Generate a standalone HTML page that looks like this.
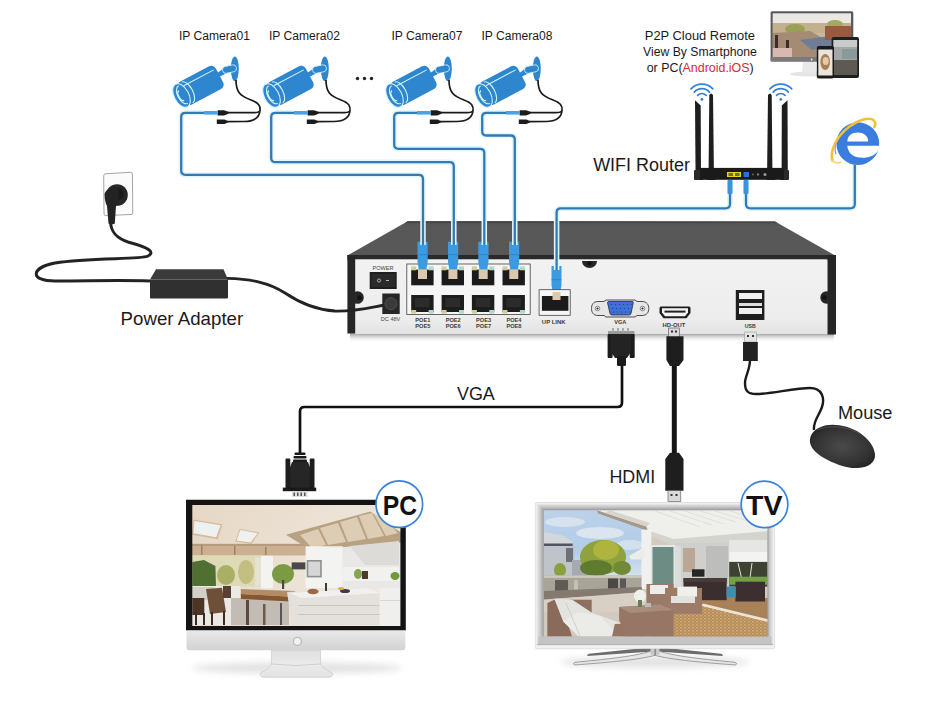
<!DOCTYPE html>
<html><head><meta charset="utf-8">
<style>
html,body{margin:0;padding:0;background:#fff;width:930px;height:701px;overflow:hidden}
svg{display:block}
text{font-family:"Liberation Sans",sans-serif}
</style></head>
<body>
<svg width="930" height="701" viewBox="0 0 930 701">
<defs>
  <linearGradient id="nvrTop" x1="0" y1="0" x2="0" y2="1">
    <stop offset="0" stop-color="#525252"/><stop offset="0.15" stop-color="#585858"/><stop offset="1" stop-color="#575757"/>
  </linearGradient>
  <linearGradient id="silver" x1="0" y1="0" x2="0" y2="1">
    <stop offset="0" stop-color="#f2f2f2"/><stop offset="0.8" stop-color="#ededed"/><stop offset="1" stop-color="#e2e2e2"/>
  </linearGradient>
  <linearGradient id="shadowDown" x1="0" y1="0" x2="0" y2="1">
    <stop offset="0" stop-color="#8a8a8a" stop-opacity="0.85"/><stop offset="1" stop-color="#fff" stop-opacity="0"/>
  </linearGradient>
  <linearGradient id="stand" x1="0" y1="0" x2="0" y2="1"><stop offset="0" stop-color="#dedede"/><stop offset="0.5" stop-color="#ebebeb"/><stop offset="1" stop-color="#e2e2e2"/></linearGradient>
  <linearGradient id="chin" x1="0" y1="0" x2="0" y2="1"><stop offset="0" stop-color="#e9e9e9"/><stop offset="1" stop-color="#d2d2d2"/></linearGradient>
  <linearGradient id="tvframe" x1="0" y1="0" x2="0" y2="1"><stop offset="0" stop-color="#a6a6a6"/><stop offset="0.5" stop-color="#b8b8b8"/><stop offset="1" stop-color="#bdbdbd"/></linearGradient>
  <filter id="soft" x="-5%" y="-5%" width="110%" height="110%"><feGaussianBlur stdDeviation="0.45"/></filter>
  <filter id="blur3" x="-20%" y="-100%" width="140%" height="300%"><feGaussianBlur stdDeviation="3"/></filter>
  <g id="cam">
    <!-- camera icon, local coords relative to camera01 -->
    <ellipse cx="234.8" cy="68.7" rx="4" ry="12.3" fill="#2e86cf"/>
    <path d="M216 74 L224 68 L226 73.5 L219 77 Z" fill="#2e86cf"/><rect x="222.5" y="65.6" width="14" height="7" rx="3.2" transform="rotate(-12 229.5 69.1)" fill="#2e86cf" stroke="#d2f4ff" stroke-width="0.8"/>
    <g transform="rotate(-28 181.5 95.5)">
      <rect x="181.5" y="82.7" width="43" height="25.6" rx="5" fill="#2e86cf"/>
      <line x1="188" y1="88" x2="222" y2="88" stroke="#d2f4ff" stroke-width="1.1"/>
      <ellipse cx="181.5" cy="95.5" rx="7.3" ry="12.8" fill="#2e86cf" stroke="#d2f4ff" stroke-width="1.1"/>
      <path d="M183.5 85.5 a5.6 10 0 0 0 0 20" fill="none" stroke="#d2f4ff" stroke-width="1.1"/>
      <path d="M188 83.8 a5.6 11.7 0 0 1 0 23.4" fill="none" stroke="#d2f4ff" stroke-width="1.1"/>
      <path d="M181.5 90 a3 5.5 0 0 0 0 11" fill="none" stroke="#d2f4ff" stroke-width="1.5"/>
    </g>
    <path d="M236 80 C236 92 240 96 251 100 C259 103 260.5 106 260 110.5 C259.5 112 257 112.7 254 112.7 L228 112.7 M260 110.5 C259.5 117 254 121.3 244 121.5 L227 121.7" fill="none" stroke="#1a1a1a" stroke-width="1.7"/>
    <path d="M217.6 110.2 H224 L228.5 111.8 V113.8 L224 115.6 H217.6 Z" fill="#1c1c1c"/>
    <path d="M216.8 119.6 H224.5 L227.8 120.9 V122.6 L224.5 124 H216.8 Z" fill="#1c1c1c"/>
    <path d="M204 111 H217.8 V114.6 H204 Z" fill="#4aa2e6"/>
  </g>
</defs>

<!-- ============ TOP LABELS ============ -->
<g fill="#1a1a1a" font-size="12">
  <text x="179" y="40.4" textLength="71" lengthAdjust="spacingAndGlyphs">IP Camera01</text>
  <text x="269" y="40.4" textLength="71" lengthAdjust="spacingAndGlyphs">IP Camera02</text>
  <text x="391.5" y="40.4" textLength="71" lengthAdjust="spacingAndGlyphs">IP Camera07</text>
  <text x="481.5" y="40.4" textLength="71" lengthAdjust="spacingAndGlyphs">IP Camera08</text>
</g>
<g fill="#222">
  <circle cx="357.5" cy="78.5" r="1.7"/><circle cx="364.5" cy="78.5" r="1.7"/><circle cx="371.5" cy="78.5" r="1.7"/>
</g>

<!-- ============ CAMERAS ============ -->
<use href="#cam"/>
<use href="#cam" transform="translate(90 0)"/>
<use href="#cam" transform="translate(213 0)"/>
<use href="#cam" transform="translate(302 0)"/>

<!-- ============ NVR ============ -->
<g id="nvr">
  <rect x="350" y="333.5" width="484" height="9" fill="url(#shadowDown)"/>
  <polygon points="407.7,221.2 775,221.4 836,256 347.4,255.5" fill="url(#nvrTop)"/>
  <polygon points="407.7,221.2 775,221.4 777.5,223 405,223" fill="#444"/>
  <rect x="347.4" y="255" width="488.6" height="5" fill="#2a2a2a"/>
  <rect x="355" y="259.3" width="472.5" height="74.7" fill="url(#silver)"/>
  <rect x="347.4" y="255" width="7.8" height="78.5" fill="#262626"/>
  <rect x="827.5" y="255" width="8.5" height="79.5" fill="#262626"/>
  <!-- notches -->
  <circle cx="357.5" cy="297.5" r="6.3" fill="#262626"/><circle cx="359.5" cy="297.7" r="2.4" fill="#111"/>
  <circle cx="826.5" cy="297.5" r="6.2" fill="#262626"/><circle cx="824.3" cy="297.5" r="2.3" fill="#111"/>
  <path d="M582 261 a7.5 7 0 0 0 15 0 z" fill="#262626"/><circle cx="589.4" cy="263.2" r="2.2" fill="#111"/>
  <!-- power -->
  <text x="372.5" y="269.7" font-size="5" fill="#444" textLength="21" lengthAdjust="spacingAndGlyphs">POWER</text>
  <rect x="369.7" y="272" width="27" height="17" fill="#1e1e1e"/>
  <rect x="371.5" y="274" width="23.5" height="13" fill="#2a2a2a"/>
  <circle cx="379" cy="280.5" r="1.6" fill="none" stroke="#ddd" stroke-width="0.7"/>
  <line x1="386" y1="280.5" x2="389" y2="280.5" stroke="#ddd" stroke-width="0.8"/>
  <rect x="382.3" y="293.5" width="17.4" height="20.5" fill="#262626"/>
  <circle cx="391" cy="303.7" r="6" fill="#3a3a3a" stroke="#555" stroke-width="0.8"/>
  <text x="380.8" y="321" font-size="5" fill="#444" textLength="19.5" lengthAdjust="spacingAndGlyphs">DC 48V</text>
  <!-- port block -->
  <rect x="406.8" y="264" width="123.4" height="50.5" fill="#f6f6f6" stroke="#444" stroke-width="0.8"/>
  <g id="prt">
    <rect x="411.2" y="269.6" width="22.4" height="15.7" fill="#1b1b1b"/>
    <rect x="411.2" y="295" width="22.4" height="17" fill="#1d1d1d"/>
    <rect x="415" y="298" width="14.6" height="9" fill="#2c2c2c"/>
    <rect x="411.2" y="266.4" width="5" height="3.9" fill="#cfcd9a"/>
    <rect x="428.6" y="266.4" width="5" height="3.9" fill="#b3d8c8"/>
    <rect x="411.2" y="310" width="5" height="3.6" fill="#cfcd9a"/>
    <rect x="428.6" y="310" width="5" height="3.6" fill="#b3d8c8"/>
    <rect x="418" y="269.6" width="9" height="9.4" fill="#dcc8ae"/>
  </g>
  <use href="#prt" transform="translate(30.4 0)"/>
  <use href="#prt" transform="translate(60.7 0)"/>
  <use href="#prt" transform="translate(91.3 0)"/>
  <g font-size="6.2" fill="#3a3a3a" text-anchor="middle" font-weight="bold">
    <text x="422.8" y="322.2" textLength="15" lengthAdjust="spacingAndGlyphs">POE1</text><text x="422.8" y="328.1" textLength="15" lengthAdjust="spacingAndGlyphs">POE5</text>
    <text x="453.2" y="322.2" textLength="15" lengthAdjust="spacingAndGlyphs">POE2</text><text x="453.2" y="328.1" textLength="15" lengthAdjust="spacingAndGlyphs">POE6</text>
    <text x="483.6" y="322.2" textLength="15" lengthAdjust="spacingAndGlyphs">POE3</text><text x="483.6" y="328.1" textLength="15" lengthAdjust="spacingAndGlyphs">POE7</text>
    <text x="514.0" y="322.2" textLength="15" lengthAdjust="spacingAndGlyphs">POE4</text><text x="514.0" y="328.1" textLength="15" lengthAdjust="spacingAndGlyphs">POE8</text>
    <text x="553.7" y="324" textLength="23.7" lengthAdjust="spacingAndGlyphs">UP LINK</text>
    <text x="620.2" y="324.2" textLength="12" lengthAdjust="spacingAndGlyphs">VGA</text>
    <text x="674" y="327.2" textLength="22.9" lengthAdjust="spacingAndGlyphs">HD-OUT</text>
    <text x="750.2" y="327.8" textLength="11" lengthAdjust="spacingAndGlyphs">USB</text>
  </g>
  <!-- blue plug boots -->
  <g fill="#3c9be0">
    <path d="M417.5 241.7 H427.7 V262 L426.5 269 H418.7 L417.5 262 Z"/>
    <path d="M448 241.7 H458.2 V262 L457 269 H449.2 L448 262 Z"/>
    <path d="M478.3 241.7 H488.5 V262 L487.3 269 H479.5 L478.3 262 Z"/>
    <path d="M509 241.7 H519.2 V262 L518 269 H510.2 L509 262 Z"/>
    <path d="M551.5 266 H561.5 V285 L560.3 292 H552.7 L551.5 285 Z"/>
  </g>
  <g fill="#2a7cc0" opacity="0.6"><rect x="417.5" y="254" width="10.2" height="1.2"/><rect x="448" y="254" width="10.2" height="1.2"/><rect x="478.3" y="254" width="10.2" height="1.2"/><rect x="509" y="254" width="10.2" height="1.2"/><rect x="551.5" y="279" width="10" height="1.2"/></g>
  <!-- uplink -->
  <rect x="539.1" y="289.7" width="31.1" height="25.6" fill="#f6f6f6" stroke="#444" stroke-width="0.8"/>
  <rect x="541.9" y="296" width="26.5" height="14.8" fill="#1b1b1b"/>
  <rect x="552.5" y="292" width="8" height="8" fill="#dcc8ae"/>
  <!-- VGA -->
  <path d="M598 301.5 C593 301.5 591.5 305 591.5 308.5 C591.5 312 593 315.5 598 315.5 L604 315.5 L606 317 H635 L637 315.5 L642 315.5 C647 315.5 648.8 312 648.8 308.5 C648.8 305 647 301.5 642 301.5 L637 301.5 L635 300 H606 L604 301.5 Z" fill="#e6e6e6" stroke="#3a3a3a" stroke-width="0.9"/>
  <circle cx="597.5" cy="308.5" r="2.3" fill="#fff" stroke="#444" stroke-width="0.6"/><circle cx="597.5" cy="308.5" r="1.1" fill="#222"/>
  <circle cx="642.5" cy="308.5" r="2.3" fill="#fff" stroke="#444" stroke-width="0.6"/><circle cx="642.5" cy="308.5" r="1.1" fill="#222"/>
  <path d="M607.5 302.5 Q607.5 301.5 609 301.5 H632 Q633.5 301.5 633.3 302.5 L631 313.5 Q630.6 315 629 315 H612 Q610.4 315 610 313.5 Z" fill="#3f70d8" stroke="#2a2a2a" stroke-width="0.8"/>
  <g fill="#1e3f8f"><circle cx="611.5" cy="304.5" r="0.6"/><circle cx="615.5" cy="304.5" r="0.6"/><circle cx="619.5" cy="304.5" r="0.6"/><circle cx="623.5" cy="304.5" r="0.6"/><circle cx="627.5" cy="304.5" r="0.6"/><circle cx="631" cy="304.5" r="0.6"/>
  <circle cx="612.5" cy="308.3" r="0.6"/><circle cx="616.5" cy="308.3" r="0.6"/><circle cx="620.5" cy="308.3" r="0.6"/><circle cx="624.5" cy="308.3" r="0.6"/><circle cx="628.5" cy="308.3" r="0.6"/>
  <circle cx="613.5" cy="312" r="0.6"/><circle cx="617.5" cy="312" r="0.6"/><circle cx="621.5" cy="312" r="0.6"/><circle cx="625.5" cy="312" r="0.6"/><circle cx="629.5" cy="312" r="0.6"/></g>
  <!-- HDMI -->
  <path d="M661 306.5 H689 Q690.5 306.5 690.5 308 V313 L686.5 318.3 H663.5 L659.5 313 V308 Q659.5 306.5 661 306.5 Z" fill="#1e1e1e"/>
  <path d="M662 308.3 H688 V312.4 L685 316.2 H665 L662 312.4 Z" fill="#f4f4f4"/>
  <rect x="664.5" y="310.6" width="21" height="2" fill="#222"/>
  <!-- USB -->
  <rect x="735.8" y="290" width="28.6" height="30" fill="#1f1f1f"/>
  <rect x="739" y="293" width="23" height="6" fill="#f0f0f0"/>
  <rect x="739" y="303" width="23" height="3" fill="#ddd"/>
  <rect x="739" y="308" width="23" height="6" fill="#f0f0f0"/>
</g>


<!-- ============ BLUE CABLES ============ -->
<g fill="none" stroke="#e2f6fd" stroke-width="5.5" stroke-linejoin="round">
  <path d="M204 112.8 H185.5 q-4.3 0 -4.3 4.3 V170.6 q0 4.3 4.3 4.3 H418.7 q4.3 0 4.3 4.3 V245"/>
  <path d="M294 112.8 H275.5 q-4.3 0 -4.3 4.3 V157.9 q0 4.3 4.3 4.3 H449.5 q4.3 0 4.3 4.3 V245"/>
  <path d="M417 112.8 H398.5 q-4.3 0 -4.3 4.3 V144.5 q0 4.3 4.3 4.3 H480 q4.3 0 4.3 4.3 V245"/>
  <path d="M506 112.8 H486.5 q-4.3 0 -4.3 4.3 V131.2 q0 4.3 4.3 4.3 H510.5 q4.3 0 4.3 4.3 V245"/>
  <path d="M556.6 270 V212.6 q0 -4.3 4.3 -4.3 H725.7 q4.3 0 4.3 -4.3 V182"/>
  <path d="M746 182 V204 q0 4.3 4.3 4.3 H850.5 q4.3 0 4.3 -4.3 V165"/>
</g>
<g fill="none" stroke="#337ab4" stroke-width="2.3" stroke-linejoin="round">
  <path d="M204 112.8 H185.5 q-4.3 0 -4.3 4.3 V170.6 q0 4.3 4.3 4.3 H418.7 q4.3 0 4.3 4.3 V245"/>
  <path d="M294 112.8 H275.5 q-4.3 0 -4.3 4.3 V157.9 q0 4.3 4.3 4.3 H449.5 q4.3 0 4.3 4.3 V245"/>
  <path d="M417 112.8 H398.5 q-4.3 0 -4.3 4.3 V144.5 q0 4.3 4.3 4.3 H480 q4.3 0 4.3 4.3 V245"/>
  <path d="M506 112.8 H486.5 q-4.3 0 -4.3 4.3 V131.2 q0 4.3 4.3 4.3 H510.5 q4.3 0 4.3 4.3 V245"/>
  <path d="M556.6 270 V212.6 q0 -4.3 4.3 -4.3 H725.7 q4.3 0 4.3 -4.3 V182"/>
  <path d="M746 182 V204 q0 4.3 4.3 4.3 H850.5 q4.3 0 4.3 -4.3 V165"/>
</g>

<!-- ============ ROUTER ============ -->
<g id="router">
  <g fill="#1e1e1e">
    <path d="M695 100.3 L700.7 105.4 L701 180 H695.6 Z"/>
    <path d="M709.3 95 Q711 92 713 95 L714 180 H708.5 Z"/>
    <path d="M768 95 Q770 92 771.7 95 L772.5 180 H767 Z"/>
    <path d="M781.8 105.4 L787.5 100.3 L787.8 180 H781.6 Z"/>
  </g>
  <g fill="#2a2a2a">
    <rect x="694" y="170" width="9" height="10" rx="1"/><rect x="706.5" y="170" width="9" height="10" rx="1"/>
    <rect x="766.5" y="170" width="9" height="10" rx="1"/><rect x="780" y="170" width="9" height="10" rx="1"/>
  </g>
  <rect x="700" y="167.9" width="84" height="11.9" fill="#1a1a1a"/>
  <rect x="727" y="172" width="14" height="5" fill="#e8d21a"/>
  <rect x="728.5" y="173" width="4.5" height="3" fill="#6b6b3a"/><rect x="735" y="173" width="4.5" height="3" fill="#6b6b3a"/>
  <rect x="743.5" y="172" width="5.5" height="5" fill="#2d6fd8"/>
  <circle cx="753" cy="174.5" r="1" fill="#666"/><circle cx="758" cy="174.5" r="1.2" fill="#777"/>
  <circle cx="765" cy="174.5" r="1.5" fill="#999"/>
  <!-- plugs -->
  <rect x="727.5" y="180" width="5" height="14" rx="1" fill="#3a94dc"/>
  <rect x="743.5" y="180" width="5" height="14" rx="1" fill="#3a94dc"/>
  <!-- wifi icons -->
  <g fill="none" stroke="#2f82d8" stroke-width="1.7" stroke-linecap="round">
    <path d="M691 88.8 A15 15 0 0 1 712.8 88.8"/>
    <path d="M694.3 92.1 A10.2 10.2 0 0 1 709.5 92.1"/>
    <path d="M697.6 95.3 A6 6 0 0 1 706.2 95.3"/>
    <path d="M769.9 88.8 A15 15 0 0 1 791.7 88.8"/>
    <path d="M773.2 92.1 A10.2 10.2 0 0 1 788.4 92.1"/>
    <path d="M776.5 95.3 A6 6 0 0 1 785.1 95.3"/>
  </g>
  <circle cx="701.9" cy="99.4" r="1.4" fill="#2f82d8"/><circle cx="780.8" cy="99.4" r="1.4" fill="#2f82d8"/>
</g>
<text x="593.2" y="171" font-size="18" fill="#1a1a1a" textLength="96.7" lengthAdjust="spacingAndGlyphs">WIFI Router</text>

<!-- ============ IE LOGO ============ -->
<g id="ie">
  <circle cx="857.8" cy="143.7" r="21.4" fill="#3a7ddf"/>
  <path d="M847.3 141.5 C847.5 135.5 852 132.6 857.7 132.6 C863.5 132.6 868 135.5 868.2 141.5 Z" fill="#fff"/>
  <path d="M847.3 145.8 H881 V151.4 H877.5 C874 156.5 866 158.2 859 157.5 C852 156.8 847.8 152 847.3 145.8 Z" fill="#fff"/>
  <path d="M836 154 C834 149 835 141 840 135" fill="none" stroke="#1f4fa8" stroke-width="1.2" opacity="0.6"/>
  <path d="M832.5 160.5 C829.5 151 836.5 136 849.5 126.5 C859.5 119.5 870 116.5 874 120.5 C875.8 122.5 875.4 125 874.3 127" fill="none" stroke="#f1c13a" stroke-width="2.6" stroke-linecap="round"/>
  <path d="M832.5 160.5 C834 163 838 163.5 841 162" fill="none" stroke="#f6d47a" stroke-width="1.6" stroke-linecap="round"/>
</g>

<!-- ============ TOP-RIGHT DEVICES ============ -->
<g id="devices">
  <ellipse cx="810" cy="74" rx="20" ry="2.5" fill="#e4e4e4"/>
  <path d="M803 61.5 H815.6 L816.5 72.4 H802 Z" fill="#e9e9e9"/>
  <rect x="770.6" y="11.3" width="82.7" height="50.2" rx="1.5" fill="#5a5a5a"/>
  <rect x="770.6" y="57" width="82.7" height="4.5" fill="#7a7a7a"/>
  <circle cx="811.6" cy="59.5" r="0.9" fill="#eee"/>
  <svg x="772.8" y="13.6" width="78.2" height="43.4" viewBox="772.8 13.6 78.2 43.4" preserveAspectRatio="none">
    <rect x="772" y="13" width="80" height="45" fill="#c9b7a2"/>
    <rect x="772" y="13" width="80" height="10" fill="#ebe7e2"/>
    <rect x="772" y="23" width="80" height="10" fill="#c2b08e"/>
    <ellipse cx="795" cy="29" rx="10" ry="5" fill="#9aa058"/>
    <ellipse cx="835" cy="24" rx="8" ry="4" fill="#a5a862"/>
    <polygon points="772,33 810,31 826,40 826,57 772,57" fill="#a58a74"/>
    <rect x="775" y="35" width="3" height="14" fill="#3a2e28"/>
    <rect x="786" y="40" width="3" height="13" fill="#3a2e28"/>
    <polygon points="800,40 830,36 840,44 812,50" fill="#6e7c94"/>
    <rect x="825" y="26" width="26" height="14" fill="#9a5a40"/>
    <rect x="772" y="48" width="20" height="9" fill="#d8b8b0"/>
  </svg>
  <rect x="831.6" y="37" width="27.4" height="41" rx="2" fill="#1f1f1f"/>
  <rect x="833.5" y="40" width="23.6" height="35" fill="#a3a7a6"/>
  <rect x="833.5" y="40" width="23.6" height="7" fill="#c9cccc"/>
  <rect x="842" y="49" width="15" height="10" fill="#8a9a9a"/>
  <rect x="833.5" y="60" width="23.6" height="15" fill="#5e5a52"/>
  <rect x="816.8" y="46" width="17.2" height="32.6" rx="2" fill="#1a1a1a"/>
  <rect x="818.3" y="49.5" width="14.2" height="26" fill="#ebe4dc"/>
  <ellipse cx="825.2" cy="62" rx="4.8" ry="8" fill="#a88055"/>
  <ellipse cx="825.7" cy="61" rx="3" ry="4" fill="#e8c8a8"/>
</g>
<g fill="#1a1a1a" font-size="12.5">
  <text x="644.8" y="40.3" textLength="110.2" lengthAdjust="spacingAndGlyphs">P2P Cloud Remote</text>
  <text x="643" y="55.6" textLength="113.9" lengthAdjust="spacingAndGlyphs">View By Smartphone</text>
  <text x="646.7" y="72.2" textLength="107" lengthAdjust="spacingAndGlyphs">or PC(<tspan fill="#d22c36">Android.iOS</tspan>)</text>
</g>

<!-- ============ POWER ============ -->
<g id="power">
  <path d="M105.5 173.8 L130.5 172.3 Q132.3 172.2 132.4 174 L132.8 212.7 Q132.8 214.5 131 214.5 L105.8 215.6 Q104 215.7 104 213.9 L103.7 175.7 Q103.7 173.9 105.5 173.8 Z" fill="#fbfbfb" stroke="#8e8e8e" stroke-width="0.8"/>
  <path d="M110.5 222 C111 232 116 238 128 242 C150 248 155 252 148 256 C140 260 90 257 55 263 C30 268 30 281 55 281 C90 281 120 280 150 281" fill="none" stroke="#232323" stroke-width="3"/>
  <path d="M227 278.4 C250 279 268 282 285 293 C300 303 315 310 335 311 C355 311.5 368 308 384 305" fill="none" stroke="#232323" stroke-width="2.8"/>
  <circle cx="117" cy="195" r="10.8" fill="#262626"/>
  <circle cx="117.5" cy="194" r="6" fill="#1a1a1a"/>
  <path d="M104.5 194 C104.5 200 106 204 107 206 L108.5 223.5 Q111.5 225.5 114.8 223.5 L116 206 C118 204 119 200 118.5 190 C116 186 108 186 104.5 194 Z" fill="#232323"/>
  <path d="M156 269.3 H223.5 L228 279.5 H150 Z" fill="#3b3b3b"/>
  <path d="M150 279.5 H228 V297.5 Q228 298.5 227 298.5 H151 Q150 298.5 150 297.5 Z" fill="#303030"/>
</g>
<text x="120.6" y="325.3" font-size="17.8" fill="#1a1a1a" textLength="122.6" lengthAdjust="spacingAndGlyphs">Power Adapter</text>


<!-- ============ VGA / HDMI / USB CABLES ============ -->
<g id="cables2">
  <path d="M622 362 V402.5 q0 4.5 -4.5 4.5 H304.5 q-4.5 0 -4.5 4.5 V455" fill="none" stroke="#111" stroke-width="2.7"/>
  <path d="M674.3 362 V456" fill="none" stroke="#151515" stroke-width="5"/>
  <path d="M750 360 C750 370 745 376 745 383 C745 391 748 394 756 394 C770 394 795 388 810 388 C822 388 825 398 822 407 C819 416 813 421 814 430" fill="none" stroke="#1a1a1a" stroke-width="2.4"/>
</g>
<!-- upper VGA plug -->
<g id="vgaUp">
  <rect x="608" y="331" width="26.5" height="4.5" fill="#9a9a9a"/>
  <rect x="612" y="328" width="2" height="4" fill="#aaa"/><rect x="617" y="328" width="2" height="4" fill="#aaa"/><rect x="622" y="328" width="2" height="4" fill="#aaa"/><rect x="627" y="328" width="2" height="4" fill="#aaa"/>
  <rect x="607.6" y="334" width="5" height="24" rx="1" fill="#1d1d1d"/>
  <rect x="629.7" y="334" width="5" height="24" rx="1" fill="#1d1d1d"/>
  <path d="M611 334 H631 V352 L627 358 H615 L611 352 Z" fill="#232323"/>
  <rect x="617" y="356" width="9" height="10" rx="1.5" fill="#1a1a1a"/>
</g>
<!-- lower VGA plug -->
<g id="vgaDown">
  <rect x="294.5" y="452.5" width="11" height="2.6" rx="1" fill="#1a1a1a"/>
  <rect x="293.5" y="456" width="13" height="2.6" rx="1" fill="#1a1a1a"/>
  <rect x="293" y="459.5" width="14" height="3" rx="1" fill="#1a1a1a"/>
  <path d="M292 462 H308 L311 470 V488 H289 V470 Z" fill="#262626"/>
  <rect x="285.5" y="458.5" width="4.8" height="30" rx="1" fill="#1d1d1d"/>
  <rect x="309.7" y="458.5" width="4.8" height="30" rx="1" fill="#1d1d1d"/>
  <rect x="282.8" y="487.6" width="33.4" height="3.6" fill="#1a1a1a"/>
  <rect x="292" y="491.5" width="15.7" height="5.5" fill="#e2e2e2"/>
  <g fill="#555"><rect x="293.5" y="492.5" width="1.5" height="3.5"/><rect x="297" y="492.5" width="1.5" height="3.5"/><rect x="300.5" y="492.5" width="1.5" height="3.5"/><rect x="304" y="492.5" width="1.5" height="3.5"/></g>
</g>
<!-- HDMI plugs -->
<g id="hdmiUp">
  <rect x="668.6" y="328" width="10.8" height="9.6" fill="#d9d9d9" stroke="#555" stroke-width="0.6"/>
  <rect x="671" y="330.5" width="2" height="2" fill="#333"/><rect x="675" y="330.5" width="2" height="2" fill="#333"/>
  <path d="M666.4 336.3 H683.5 V360 L679 366 H670 L666.4 360 Z" fill="#1e1e1e"/>
</g>
<g id="hdmiDown">
  <path d="M670 452.8 H679 L683.5 459 V490.7 H665.3 V459 Z" fill="#1e1e1e"/>
  <rect x="668" y="490.7" width="12.8" height="10.8" fill="#d9d9d9" stroke="#555" stroke-width="0.6"/>
  <rect x="670.5" y="494" width="2" height="2" fill="#333"/><rect x="675.5" y="494" width="2" height="2" fill="#333"/>
</g>
<!-- USB plug -->
<g id="usbPlug">
  <rect x="744.7" y="332" width="11.8" height="10" fill="#e4e4e4" stroke="#999" stroke-width="0.6"/>
  <rect x="747" y="335" width="2" height="2" fill="#333"/><rect x="752" y="335" width="2" height="2" fill="#333"/>
  <rect x="743" y="342" width="14.8" height="19" fill="#222"/>
</g>
<!-- Mouse -->
<g id="mouse">
  <defs><radialGradient id="mouseG" cx="0.5" cy="0.5" r="0.6"><stop offset="0" stop-color="#4a4a4a"/><stop offset="0.7" stop-color="#333"/><stop offset="1" stop-color="#222"/></radialGradient></defs>
  <path d="M809.9 439.9 C810.5 432 817 427.5 826 425.2 C836 423.5 850 426 860 433 C868 438.5 874 446 875 454 C875.8 462 869 467.5 858 468 C846 468.5 833 463 823.9 457.9 C815 452.5 809.5 446.5 809.9 439.9 Z" fill="url(#mouseG)"/>
  <path d="M817 430 C828 424.5 848 426 860 434" fill="none" stroke="#5a5a5a" stroke-width="0.7"/>
</g>
<g fill="#1a1a1a">
  <text x="457" y="399.6" font-size="19" textLength="37.8" lengthAdjust="spacingAndGlyphs">VGA</text>
  <text x="609.4" y="483.1" font-size="18.7" textLength="45.8" lengthAdjust="spacingAndGlyphs">HDMI</text>
  <text x="837.9" y="418.8" font-size="17.6" textLength="54.6" lengthAdjust="spacingAndGlyphs">Mouse</text>
</g>

<!-- ============ PC MONITOR ============ -->
<g id="pc">
  <ellipse cx="297" cy="668" rx="105" ry="6" fill="#d8d8d8" opacity="0.7" filter="url(#blur3)"/>
  <path d="M271.4 650 H320.5 V663 C321 667 326 670 331 672 Q333.2 673.2 332.4 675.3 Q331.6 677.3 328 677.3 H264.5 Q261 677.3 260.3 675.3 Q259.6 673.2 262 672 C267 670 271 667 271.4 663 Z" fill="url(#stand)" stroke="#c2c2c2" stroke-width="0.6"/>
  <path d="M271.4 664 Q296 667 320.5 664" fill="none" stroke="#cfcfcf" stroke-width="1"/>
  <path d="M186 499.8 H405.8 V630.5 H186 Z" fill="#141414"/>
  <path d="M186.5 630.5 H405.3 V647 q0 3.3 -3.3 3.3 H189.8 q-3.3 0 -3.3 -3.3 Z" fill="url(#chin)"/>
  <circle cx="297.4" cy="641.4" r="4" fill="#f2f2f2" stroke="#bcbcbc" stroke-width="1.4"/>
  <svg x="192.3" y="505" width="208.1" height="121" viewBox="192.3 505 208.1 121" preserveAspectRatio="none">
    <defs><linearGradient id="ceil" x1="0" y1="0" x2="1" y2="0.3"><stop offset="0" stop-color="#e6d7c4"/><stop offset="1" stop-color="#efe8df"/></linearGradient></defs>
    <g filter="url(#soft)">
    <rect x="188" y="501" width="217" height="129" fill="url(#ceil)"/>
    <!-- skylights -->
    <polygon points="193.5,519.6 222.4,524.3 217.7,539.3 192.3,534.7" fill="#d9b999"/>
    <polygon points="194.5,521 220.5,525.2 216.2,537.2 193.5,533.2" fill="#eef1f2"/>
    <polygon points="239.7,528.9 259.3,532.4 251.3,543.9 235.1,541.6" fill="#d9b999"/>
    <polygon points="240.3,530 257.6,533.2 250.6,542.6 236.5,540.6" fill="#f0f1ef"/>
    <!-- beam band -->
    <rect x="192" y="543.9" width="116" height="11.6" fill="#cbb191"/>
    <rect x="192" y="543.9" width="116" height="2" fill="#b59b7b"/>
    <g fill="#9e8262"><rect x="201" y="545" width="1.5" height="10"/><rect x="234" y="546" width="1.5" height="9"/><rect x="265" y="547" width="1.5" height="8"/></g>
    <!-- sloped ceiling -->
    <polygon points="285.9,534.7 370.3,511.6 401,532.4 401,542.8 310.2,549.7" fill="#b8a282"/>
    <g fill="#dccdb4">
      <polygon points="300,535 318,529 326,545 312,548"/><polygon points="320,528 338,523 346,542 328,545"/>
      <polygon points="340,522 357,517 366,539 348,542"/><polygon points="359,516 372,513 384,536 368,539"/>
      <polygon points="374,514 384,518 398,533 386,536"/>
    </g>
    <!-- garden -->
    <rect x="192" y="555.5" width="80" height="31" fill="#dedab8"/>
    <polygon points="192.3,562 204,560 215.4,566 216,586 192.3,586" fill="#4f7032"/>
    <ellipse cx="226" cy="575" rx="9" ry="10" fill="#a9b066"/>
    <ellipse cx="246" cy="572" rx="8" ry="12" fill="#c2bf80"/>
    <rect x="255" y="557" width="6" height="29" fill="#e6e2d2"/>
    <rect x="261" y="556" width="12" height="32" fill="#f3f3f1"/>
    <ellipse cx="283" cy="574" rx="11" ry="10" fill="#7c9a42"/>
    <rect x="282" y="580" width="2.2" height="9" fill="#4a4a3a"/>
    <rect x="291.7" y="562.4" width="14" height="7" fill="#4a4a48"/>
    <!-- white walls -->
    <polygon points="305.6,546.2 342.6,546.2 342.6,588 305.6,588" fill="#f3f3f2"/>
    <polygon points="310.2,549.7 401,542.8 401,588 342.6,588 342.6,546.2" fill="#e9e8e6"/>
    <polygon points="350,546 399,541 399,565 365,565" fill="#dcdbd8"/>
    <rect x="306.7" y="560" width="15.1" height="17.4" fill="#8e8e8e"/>
    <rect x="308.3" y="561.6" width="11.9" height="14.2" fill="#d6d6d6"/>
    <rect x="342.6" y="567" width="56.6" height="14" fill="#f1f1f0"/>
    <ellipse cx="358" cy="574" rx="4" ry="5" fill="#86a452"/>
    <rect x="362" y="571" width="6" height="8" fill="#4e3a2c"/>
    <ellipse cx="395" cy="576" rx="4.5" ry="4" fill="#6f9a3e"/>
    <!-- bottom-left dining -->
    <rect x="192.3" y="586" width="48" height="39" fill="#ebe9e4"/>
    <rect x="192.3" y="587" width="22" height="13" fill="#d2d0c8"/>
    <rect x="192.3" y="598" width="12" height="17" fill="#4e3628"/>
    <polygon points="206,589 222,587.8 226,612 210,614" fill="#6e5038"/>
    <rect x="223" y="586" width="8" height="12" fill="#5a4030"/>
    <g fill="#3e2c20"><rect x="195" y="612" width="2" height="13"/><rect x="203" y="613" width="2" height="12"/><rect x="211" y="612" width="2" height="13"/><rect x="223" y="611" width="2" height="14"/></g>
    <!-- table + stools -->
    <rect x="231" y="598" width="58" height="27" fill="#c2bcb4"/>
    <polygon points="240.9,589 295.2,591 295.2,597 240.9,594" fill="#b48c64"/>
    <polygon points="240.9,594 295.2,597 295.2,601.7 240.9,599" fill="#87552e"/>
    <rect x="246" y="600" width="3" height="25" fill="#5a4a3c"/><rect x="263" y="604" width="2.5" height="21" fill="#6a5a4a"/>
    <rect x="280" y="603" width="2" height="22" fill="#555"/>
    <!-- island -->
    <polygon points="287,592 368,588 380,593 380,625 292,625" fill="#e4e1dd"/>
    <polygon points="290,593 368,588 380,593 301,598" fill="#f1f0ee"/>
    <rect x="298" y="605" width="82" height="1" fill="#c9c5bf"/>
    <rect x="298" y="614" width="82" height="1" fill="#c9c5bf"/>
    <ellipse cx="313" cy="591.5" rx="5.5" ry="2.8" fill="#9a6846"/>
    <rect x="325" y="583" width="2" height="8" fill="#3a3a3a"/>
    <ellipse cx="345" cy="591" rx="5" ry="2" fill="#3c3c3c"/>
    <ellipse cx="341" cy="588.5" rx="3" ry="1.6" fill="#d6b032"/>
    <rect x="379.6" y="587.8" width="21" height="38" fill="#efefed"/>
    <rect x="379.6" y="600" width="21" height="1" fill="#d8d6d2"/>
  </g>
  </svg>
  <!-- PC badge -->
  <circle cx="399.3" cy="504.1" r="23.3" fill="#fff" stroke="#3a84d8" stroke-width="1.7"/>
  <text x="382.8" y="514.8" font-size="28" font-weight="bold" fill="#111" textLength="34.3" lengthAdjust="spacingAndGlyphs">PC</text>
</g>

<!-- ============ TV ============ -->
<g id="tv">
  <ellipse cx="655" cy="662" rx="95" ry="6" fill="#d8d8d8" opacity="0.7" filter="url(#blur3)"/>
  <g>
    <path d="M653 647 L589 653.8 Q586.5 654.5 587.5 656 L653 651.5 Z" fill="#6c6c6c"/>
    <path d="M657 647 L721 653.8 Q723.5 654.5 722.5 656 L657 651.5 Z" fill="#6c6c6c"/>
    <path d="M654 650 C640 656 600 660 575 662.3 Q572 663.5 574.5 665 C600 663 640 660 656 655 Z" fill="#e6e6e6" stroke="#8a8a8a" stroke-width="0.8"/>
    <path d="M656 650 C670 656 710 660 735 662.3 Q738 663.5 735.5 665 C710 663 670 660 654 655 Z" fill="#e6e6e6" stroke="#8a8a8a" stroke-width="0.8"/>
  </g>
  <rect x="650.5" y="644.8" width="9" height="10" fill="#c8c8c8"/><rect x="654.5" y="645" width="1.2" height="10" fill="#777"/>
  <rect x="535.3" y="502.5" width="239.3" height="146.2" rx="1.2" fill="#f1f1f1" stroke="#d2d2d2" stroke-width="0.6"/>
  <rect x="536.8" y="503.8" width="236.3" height="140.6" fill="#e4e4e4"/>
  <rect x="538.3" y="505" width="233.3" height="139" fill="#d6d6d6"/>
  <rect x="539.8" y="506.3" width="230.3" height="137.5" fill="#c6c6c6"/>
  <rect x="541.3" y="507.6" width="227.3" height="136" fill="#b4b4b4"/>
  <rect x="542.6" y="508.9" width="225.8" height="134" fill="#a2a2a2"/>
  <rect x="538.3" y="636.4" width="233.3" height="7.8" fill="#c4c4c4"/>
  <rect x="536.8" y="644.2" width="236.3" height="0.9" fill="#a8a8a8"/>
  <svg x="543.8" y="510.2" width="223.6" height="126.2" viewBox="543.8 510.2 223.6 126.2" preserveAspectRatio="none">
    <defs>
      <linearGradient id="sky" x1="0" y1="0" x2="0" y2="1"><stop offset="0" stop-color="#bcd2ea"/><stop offset="0.6" stop-color="#b2cce8"/><stop offset="1" stop-color="#d8e4ee"/></linearGradient>
      <pattern id="rug" width="4" height="3" patternUnits="userSpaceOnUse"><rect width="4" height="3" fill="#b48c5c"/><rect width="2" height="1.5" fill="#d0aa72"/><rect x="2" y="1.5" width="2" height="1.5" fill="#c49a64"/></pattern>
    </defs>
    <g filter="url(#soft)">
    <rect x="540" y="506" width="232" height="135" fill="#d2cabe"/>
    <rect x="543" y="510" width="102" height="68" fill="url(#sky)"/>
    <ellipse cx="565" cy="522" rx="20" ry="5" fill="#d6e2ee"/>
    <ellipse cx="600" cy="533" rx="24" ry="6" fill="#dae5f0"/>
    <ellipse cx="630" cy="545" rx="14" ry="5" fill="#d2e0ec"/>
    <!-- house left -->
    <polygon points="543.7,532.2 562,535 573,542 573,546 543.7,546" fill="#d4d7da"/>
    <rect x="543.7" y="543.5" width="29" height="2.6" fill="#505660"/>
    <rect x="543.7" y="546" width="30.9" height="30.7" fill="#bfc4ca"/>
    <rect x="566" y="548" width="7" height="14" fill="#6c7078"/>
    <rect x="572" y="560" width="16" height="16" fill="#a4aab0"/>
    <!-- tree -->
    <ellipse cx="603" cy="557" rx="23" ry="17" fill="#8fa23a"/>
    <ellipse cx="606" cy="550" rx="13" ry="10" fill="#aeb43e"/>
    <ellipse cx="596" cy="568" rx="16" ry="8" fill="#5f7c2e"/>
    <ellipse cx="622" cy="568" rx="9" ry="7" fill="#6f8a34"/>
    <ellipse cx="560" cy="570" rx="6" ry="7" fill="#8aa040"/>
    <!-- pergola -->
    <polygon points="596.9,510.2 768,510.2 768,532.2 700,540 673.6,542.1 646.4,529.7" fill="#efefec"/>
    <g stroke="#dcdcd6" stroke-width="0.8"><line x1="655" y1="511" x2="700" y2="527"/><line x1="670" y1="511" x2="712" y2="525"/><line x1="685" y1="511" x2="724" y2="524"/><line x1="700" y1="511" x2="736" y2="522"/><line x1="715" y1="511" x2="748" y2="521"/><line x1="730" y1="511" x2="760" y2="520"/></g>
    <polygon points="596.9,510.2 646.4,526.5 648,531 598,513.5" fill="#a39a8a"/>
    <polygon points="610,510.2 650,523 646.4,526.5 605,512.5" fill="#d8d4cc"/>
    <polygon points="646.4,529.7 673.6,539 768,531 768,540 673.6,546 644,533" fill="#d4d4ce"/>
    <!-- building & interior -->
    <rect x="674.8" y="543" width="93" height="44" fill="#cfcfcc"/>
    <rect x="641.4" y="529.7" width="10" height="59.4" fill="#f0f0ee"/>
    <polygon points="629,556 644,547 644,559.4 631,559.4" fill="#ececea"/>
    <rect x="651.4" y="545" width="24" height="42" fill="#e8e8e6"/>
    <rect x="652.5" y="547" width="21" height="39.6" fill="#6c8c84"/>
    <rect x="674.8" y="546" width="6" height="40" fill="#dcdcda"/>
    <rect x="683" y="548" width="12" height="24" fill="#b9a896"/>
    <rect x="692" y="569.3" width="12.5" height="7.4" fill="#262626"/>
    <rect x="706" y="546" width="22" height="38" fill="#bdbdbb"/>
    <rect x="729.2" y="540" width="38.4" height="12" fill="#e6e6e4"/>
    <rect x="729.2" y="552" width="38.4" height="10" fill="#f3f3f2"/>
    <rect x="729.2" y="561.9" width="38.4" height="24.7" fill="#3e4232"/>
    <g stroke="#e6e6e0" stroke-width="1"><line x1="738" y1="563" x2="742" y2="580"/><line x1="752" y1="563" x2="750" y2="578"/></g>
    <rect x="729.2" y="576.7" width="38.4" height="8" fill="#76a046"/>
    <!-- terrace wall -->
    <rect x="543.7" y="575.5" width="97.7" height="21" fill="#a8a498"/>
    <rect x="543.7" y="575.5" width="97.7" height="2.4" fill="#cfcac0"/>
    <rect x="555" y="580" width="13" height="13" fill="#5e5c56"/>
    <rect x="574" y="580" width="4" height="13" fill="#c4c0b6"/>
    <rect x="608" y="578.5" width="10" height="12" fill="#4c4a46"/>
    <rect x="620" y="578.5" width="6" height="12" fill="#5a5854"/>
    <polygon points="543.7,591 641.4,587 643,592 543.7,599.5" fill="#857a70"/>
    <!-- floor left -->
    <polygon points="543.7,600 643,592 675,596 675,612 543.7,612" fill="#d8d0c4"/>
    <!-- floor right wood -->
    <polygon points="673.6,596.5 768,598 768,637 656,637 656,609" fill="#a98158"/>
    <polygon points="703,603.5 768,619.2 768,622.2 701,606" fill="#ebe3d4"/>
    <polygon points="656,609 701,606 768,622.2 768,637 650,637" fill="url(#rug)"/>
    <!-- dark sofas -->
    <rect x="683.5" y="578" width="43.2" height="22.2" fill="#3b2d2d"/>
    <rect x="683.5" y="578" width="43.2" height="4" fill="#4a3a3a"/>
    <rect x="735.4" y="581.7" width="29.6" height="19.8" fill="#3d2f31"/>
    <rect x="726.7" y="586.6" width="8.7" height="11.2" fill="#3a90b0"/>
    <!-- armchairs -->
    <rect x="646.4" y="584" width="27.2" height="22.4" fill="#9a7a66"/>
    <rect x="650" y="585" width="18" height="9" fill="#ececea"/>
    <rect x="665" y="588" width="37" height="25.8" fill="#9c7c68"/>
    <rect x="677.3" y="586.6" width="19.7" height="10" fill="#efefed"/>
    <rect x="671" y="596" width="24" height="7" fill="#e2e2df"/>
    <!-- sofa -->
    <polygon points="547.4,603 556,599 560,600 572,636.4 547.4,636.4" fill="#8a6a5a"/>
    <rect x="569.7" y="599.7" width="22" height="13" fill="#8e7060"/>
    <polygon points="554.2,598.4 572.3,599.7 591.6,612.6 623.9,624.2 620,636.4 578.7,636.4 563.2,621.6" fill="#e3e3e0"/>
    <polygon points="563.2,621.6 578,612 600,616 620,636.4 578.7,636.4" fill="#ebebe8"/>
    <line x1="566" y1="603" x2="580" y2="636" stroke="#c8c8c4" stroke-width="0.8"/>
    <polygon points="614.8,624 643.2,622.9 646.4,628 646.4,636.4 612,636.4" fill="#947464"/>
    <!-- coffee table -->
    <polygon points="619.1,607 660,604.5 673.6,610 673.6,636.4 626,636.4 619.1,620" fill="#987666"/>
    <polygon points="619.1,607 660,604.5 673.6,610 630,613" fill="#aa8c7c"/>
    <ellipse cx="640" cy="596" rx="6" ry="6.5" fill="#eef0ea"/>
    <rect x="638" y="600" width="4" height="7" fill="#6a7a5a"/>
    <rect x="645" y="603" width="6" height="4" fill="#bbb"/>
  </g>
  </svg>
  <!-- TV badge -->
  <circle cx="764.5" cy="504.4" r="23.3" fill="#fff" stroke="#3a84d8" stroke-width="1.7"/>
  <text x="746.1" y="514.8" font-size="28" font-weight="bold" fill="#111" textLength="36.4" lengthAdjust="spacingAndGlyphs">TV</text>
</g>

</svg>
</body></html>
